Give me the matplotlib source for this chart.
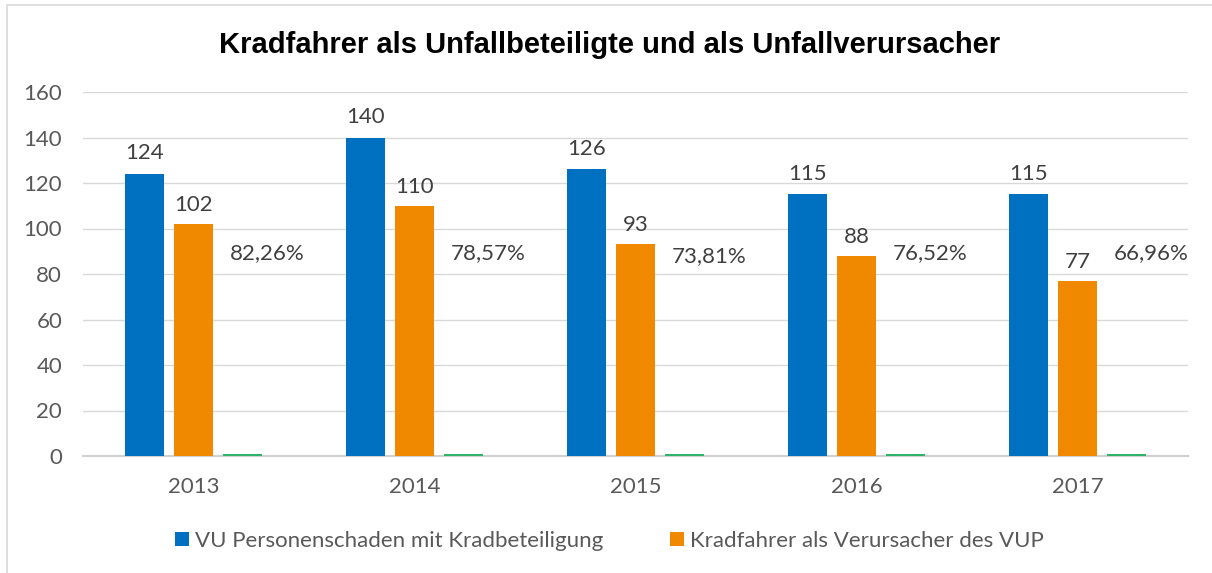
import numpy as np
import matplotlib.pyplot as plt
from matplotlib.patches import Rectangle

years = ["2013", "2014", "2015", "2016", "2017"]
vu_personen = [124, 140, 126, 115, 115]
kradfahrer_verursacher = [102, 110, 93, 88, 77]
anteil = [0.8226, 0.7857, 0.7381, 0.7652, 0.6696]
anteil_labels = ["82,26%", "78,57%", "73,81%", "76,52%", "66,96%"]
anteil_label_y = [89, 89, 88, 89, 89]

plt.rcParams['font.family'] = ['Lato', 'DejaVu Sans']
grey = '#595959'
fs = 16

fig = plt.figure(figsize=(12.12, 5.73), dpi=100)
fig.patches.append(Rectangle((7 / 1212, -0.1), 1.2, 1 - 5 / 573 + 0.1, transform=fig.transFigure,
                             fill=False, edgecolor='#d9d9d9', linewidth=1.2))
ax = fig.add_axes([83 / 1212, 117 / 573, 1105 / 1212, 364 / 573])

x = np.arange(len(years))
w = 0.176
step = 0.222
b1 = ax.bar(x - step, vu_personen, w, color='#0070C0', label='VU Personenschaden mit Kradbeteiligung', zorder=3)
b2 = ax.bar(x, kradfahrer_verursacher, w, color='#F08800', label='Kradfahrer als Verursacher des VUP', zorder=3)
b3 = ax.bar(x + step, anteil, w, color='#2EB36A', zorder=3)

for xi, v in zip(x, vu_personen):
    ax.annotate(str(v), (xi - step, v), xytext=(0, 7.5), textcoords='offset points',
                ha='center', va='bottom', fontsize=fs, color='#404040')
for xi, v in zip(x, kradfahrer_verursacher):
    ax.annotate(str(v), (xi, v), xytext=(0, 6.5), textcoords='offset points',
                ha='center', va='bottom', fontsize=fs, color='#404040')
for xi, lab, ly in zip(x, anteil_labels, anteil_label_y):
    ax.annotate(lab, (xi + step, ly), xytext=(18, 0), textcoords='offset points',
                ha='center', va='center', fontsize=fs, color='#404040')

ax.set_xlim(-0.5, len(years) - 0.5)
ax.set_ylim(0, 160)
ax.set_yticks(range(0, 161, 20))
ax.set_xticks(x)
ax.set_xticklabels(years)
ax.tick_params(axis='both', length=0, labelsize=fs, colors=grey)
ax.tick_params(axis='x', pad=15)
ax.tick_params(axis='y', pad=15)
ax.grid(axis='y', color='#d9d9d9', linewidth=1, zorder=0)
for s in ['top', 'right', 'left']:
    ax.spines[s].set_visible(False)
ax.spines['bottom'].set_color('#d0d0d0')
ax.spines['bottom'].set_linewidth(1.5)

fig.text(0.503, 1 - 45 / 573, 'Kradfahrer als Unfallbeteiligte und als Unfallverursacher',
         ha='center', va='center', fontsize=21, fontweight='bold', family='Liberation Sans', color='black')

leg = fig.legend(handles=[b1, b2], loc='center', bbox_to_anchor=(0.503, 1 - 541 / 573), ncol=2,
                 frameon=False, fontsize=fs, handlelength=0.6, handleheight=0.6, handletextpad=0.3,
                 columnspacing=3.0)
for t in leg.get_texts():
    t.set_color(grey)

fig.savefig('out.png', dpi=100)
